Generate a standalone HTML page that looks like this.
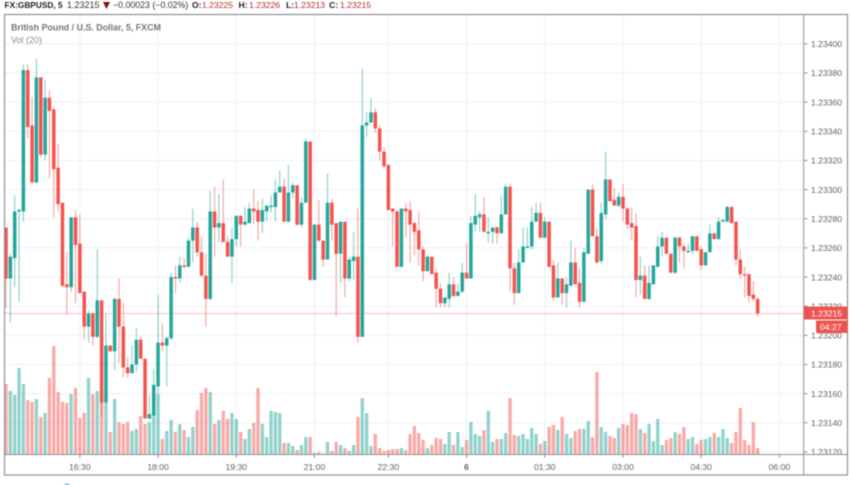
<!DOCTYPE html>
<html lang="en">
<head>
<meta charset="utf-8">
<title>GBPUSD 5 minute chart</title>
<style>
html,body{margin:0;padding:0;background:#fff;width:852px;height:485px;overflow:hidden}
svg{display:block;filter:blur(.45px);font-family:"Liberation Sans",sans-serif}
</style>
</head>
<body>
<svg id="chart" xmlns="http://www.w3.org/2000/svg" width="852" height="485" viewBox="0 0 852 485">
  <defs><clipPath id="plot-clip"><rect x="5" y="15" width="799" height="439"/></clipPath></defs>
  <rect x="0" y="0" width="852" height="485" fill="#fff"/>
  <g id="grid"></g>
  <g id="price-line-layer"></g>
  <g id="volumes" clip-path="url(#plot-clip)"></g>
  <g id="candles" clip-path="url(#plot-clip)"></g>
  <g id="price-axis"></g>
  <g id="time-axis"></g>

  <rect x="4.5" y="14.5" width="843" height="460.5" fill="none" stroke="#8f9198" stroke-width="1.2"/>
  <line x1="803.7" y1="15" x2="803.7" y2="475" stroke="#8f9198" stroke-width="1"/>
  <line x1="5" y1="454.5" x2="848" y2="454.5" stroke="#8f9198" stroke-width="1"/>

  <g id="last-price">
    <rect x="804" y="306.5" width="43.5" height="13" fill="#ef5350"/>
    <text x="811" y="316.3" font-size="8.6" fill="#fff">1.23215</text>
    <rect x="816" y="320.5" width="31.5" height="12.5" fill="#ef5350"/>
    <text x="820" y="330" font-size="8.6" fill="#fff">04:27</text>
  </g>

  <g>
    <text x="4.5" y="8" font-size="8.3" font-weight="700" fill="#222">FX:GBPUSD, 5</text>
    <text x="67" y="8" font-size="9" fill="#333">1.23215</text>
    <path d="M103 2 L110 2 L106.5 9 Z" fill="#8b1010"/>
    <text x="113" y="8" font-size="8.8" fill="#333">−0.00023 (−0.02%)</text>
    <text x="192" y="8" font-size="8.6" font-weight="700" fill="#222">O:</text>
    <text x="202" y="8" font-size="8.6" fill="#b22a2a">1.23225</text>
    <text x="238.5" y="8" font-size="8.6" font-weight="700" fill="#222">H:</text>
    <text x="249" y="8" font-size="8.6" fill="#b22a2a">1.23226</text>
    <text x="286" y="8" font-size="8.6" font-weight="700" fill="#222">L:</text>
    <text x="294" y="8" font-size="8.6" fill="#b22a2a">1.23213</text>
    <text x="329" y="8" font-size="8.6" font-weight="700" fill="#222">C:</text>
    <text x="340" y="8" font-size="8.6" fill="#b22a2a">1.23215</text>
  </g>
  <text x="11" y="30.5" font-size="8.9" font-weight="700" fill="#73767f">British Pound / U.S. Dollar, 5, FXCM</text>
  <text x="11" y="43" font-size="9" fill="#8a8d95">Vol (20)</text>
  <circle cx="67" cy="487" r="3.5" fill="#5ab0e6"/>
</svg>

<script>
// Prices are given in points above this base (1 point = 0.00001).
const priceBase = 1.23;
const opens = [
274,239,253,285,285,382,344,305,377,324,
363,355,315,291,235,233,281,263,230,206,
215,199,224,154,193,189,225,206,178,174,
180,197,184,143,145,165,195,193,198,240,
239,248,247,265,274,257,241,225,285,274,
277,264,254,266,282,276,277,287,286,278,
285,288,288,298,302,278,298,303,276,291,
333,238,276,265,252,291,277,256,278,239,
251,254,199,344,346,353,342,326,317,287,
285,247,287,286,277,272,259,244,254,243,
232,222,225,235,227,230,243,239,276,281,
283,270,271,274,270,283,302,246,229,250,
260,261,278,284,267,278,248,226,239,229,
234,250,236,223,256,300,268,251,283,307,
293,289,295,287,277,275,238,241,225,235,
247,261,267,256,243,267,261,257,258,268,
259,248,257,270,266,278,278,288,278,252,
242,242,228,225];
const highs = [
274,256,296,287,386,386,363,390,377,375,
368,357,331,291,257,281,286,283,230,217,
216,259,224,215,193,226,239,222,185,193,
205,199,184,159,177,228,208,199,243,248,
254,253,267,287,278,268,256,299,302,297,
307,268,274,282,282,288,291,300,292,294,
289,296,307,313,308,317,305,303,295,335,
333,276,293,265,311,294,277,278,278,254,
271,287,383,353,363,356,344,329,317,287,
286,287,291,292,278,285,261,255,254,246,
236,226,243,240,235,250,263,282,297,285,
295,281,274,275,296,304,304,250,259,274,
274,288,291,291,281,278,252,250,239,240,
265,260,246,260,300,304,274,291,326,307,
301,298,304,288,288,284,254,248,248,248,
268,271,267,256,268,268,263,263,268,268,
261,257,276,270,281,280,289,289,278,259,
247,242,237,226];
const lows = [
219,209,233,223,278,335,304,304,322,320,
308,281,285,233,214,230,222,229,197,195,
193,198,144,154,189,176,181,171,171,174,
175,184,143,142,145,160,189,165,197,229,
236,246,247,250,254,240,206,224,254,264,
264,254,236,261,261,275,277,276,265,270,
278,284,278,298,278,278,294,275,274,291,
238,238,264,247,252,265,213,236,226,237,
238,195,199,336,346,339,320,315,286,261,
247,247,267,250,255,248,237,244,242,219,
219,219,219,226,227,229,239,239,271,271,
271,264,263,263,270,283,230,221,229,250,
260,259,278,267,267,247,224,226,221,219,
234,235,219,223,256,268,249,249,280,292,
289,288,278,273,265,226,228,225,224,235,
247,254,256,243,242,250,246,257,256,258,
245,248,257,266,266,278,278,277,248,239,
226,223,223,213];
const closes = [
239,254,285,286,382,343,305,377,324,363,
354,314,290,234,233,281,262,229,206,215,
199,224,154,193,189,225,206,178,174,180,
197,184,143,146,166,195,193,198,240,239,
248,247,265,274,257,241,225,285,274,277,
264,254,266,282,276,278,287,285,278,286,
289,289,298,302,278,298,303,276,291,333,
238,276,265,252,291,276,256,278,239,252,
254,199,344,346,353,342,326,316,286,285,
247,287,285,276,271,259,244,254,242,232,
222,226,235,227,230,243,239,277,282,283,
271,271,274,270,283,302,246,229,250,261,
261,278,284,267,278,247,226,239,229,235,
250,235,223,257,300,268,250,284,307,292,
289,295,287,276,274,238,241,225,236,248,
261,267,256,243,267,261,258,258,268,258,
248,257,270,266,278,279,288,277,252,242,
241,227,225,215];
const volumes = [
140,126,118,172,140,108,104,110,74,82,
152,216,124,104,102,120,132,72,82,152,
120,126,112,104,44,110,64,60,64,46,
50,76,60,64,78,120,30,46,68,44,
60,48,34,54,88,122,132,124,60,68,
86,70,82,70,44,30,50,62,132,60,
34,86,84,82,22,22,16,8,18,34,
34,2,4,1,24,6,24,18,12,6,
18,74,112,82,16,40,12,6,8,10,
10,12,8,40,56,42,28,12,18,32,
30,20,44,18,44,14,28,64,40,36,
48,86,24,30,30,42,112,38,36,40,
30,52,40,20,26,54,58,48,74,40,
32,46,50,50,66,34,164,54,44,36,
32,52,60,58,82,80,50,42,60,26,
70,18,28,32,44,40,54,30,34,20,
28,30,34,42,34,50,32,22,44,92,
28,18,64,12];
const priceTicks = [400,380,360,340,320,300,280,260,240,220,200,180,160,140,120];
const priceTickLabels = ["1.23400","1.23380","1.23360","1.23340","1.23320","1.23300","1.23280","1.23260","1.23240","1.23220","1.23200","1.23180","1.23160","1.23140","1.23120"];
const timeTickBars = [17,35,53,71,88,106,124,142,160,178];
const timeTickLabels = ["16:30","18:00","19:30","21:00","22:30","6","01:30","03:00","04:30","06:00"];
const lastPrice = 215;

const UP = "#26a69a", DOWN = "#f5534f";
const NS = "http://www.w3.org/2000/svg";
function xBar(i){ return 6 + i * 4.345; }
function yPrice(p){ return 73 + (380 - p) * 1.4575; }
function yVolume(v){ return 454 - v * 0.5; }
function make(tag, attrs, parent){
  const el = document.createElementNS(NS, tag);
  for (const k in attrs) el.setAttribute(k, attrs[k]);
  parent.appendChild(el);
  return el;
}
const grid = document.getElementById("grid");
const priceAxis = document.getElementById("price-axis");
const timeAxis = document.getElementById("time-axis");
const volLayer = document.getElementById("volumes");
const candleLayer = document.getElementById("candles");
const lineLayer = document.getElementById("price-line-layer");

priceTicks.forEach(function(p, idx){
  const y = yPrice(p);
  const line = make("line", {x1:5, x2:804, y1:y, y2:y, stroke:"#eff2f8", "stroke-width":1.2}, grid);
  
  
  const tick = make("line", {x1:804, x2:807.5, y1:y, y2:y, stroke:"#8f9198", "stroke-width":1}, priceAxis);
  
  
  const label = make("text", {x:811, y:y + 3.2, "font-size":8.6, fill:"#5f6269"}, priceAxis);
  
  
  label.textContent = priceTickLabels[idx];
});

timeTickBars.forEach(function(b, idx){
  const x = xBar(b);
  const line = make("line", {x1:x, x2:x, y1:15, y2:454, stroke:"#eff2f8", "stroke-width":1.2}, grid);
  
  
  const tick = make("line", {x1:x, x2:x, y1:455, y2:458, stroke:"#8f9198", "stroke-width":1}, timeAxis);
  
  
  const label = make("text", {x:x, y:470, "font-size":8.6, "text-anchor":"middle", fill:"#5f6269"}, timeAxis);
  
  
  if (timeTickLabels[idx] === "6") label.setAttribute("font-weight", "700");
  label.textContent = timeTickLabels[idx];
});

const priceLine = make("line", {x1:5, x2:804, y1:yPrice(lastPrice), y2:yPrice(lastPrice), stroke:DOWN, "stroke-width":1.6, "stroke-dasharray":"1 1", opacity:.5}, lineLayer);



volumes.forEach(function(v, i){
  const up = closes[i] >= opens[i];
  const top = yVolume(v);
  const bar = make("rect", {x:xBar(i) - 1.65, y:top, width:3.3, height:yVolume(0) - top, fill:up ? UP : DOWN, opacity:.5}, volLayer);
  
  
});

opens.forEach(function(o, i){
  const c = closes[i];
  const up = c >= o;
  const color = up ? UP : DOWN;
  const x = xBar(i);
  const wick = make("line", {x1:x, x2:x, y1:yPrice(highs[i]), y2:yPrice(lows[i]), stroke:color, "stroke-width":1.2, opacity:.5}, candleLayer);
  
  
  const top = yPrice(Math.max(o, c));
  const h = Math.max(yPrice(Math.min(o, c)) - top, 1.2);
  const body = make("rect", {x:x - 1.75, y:top, width:3.5, height:h, fill:color}, candleLayer);
  
  
});
</script>
</body>
</html>
